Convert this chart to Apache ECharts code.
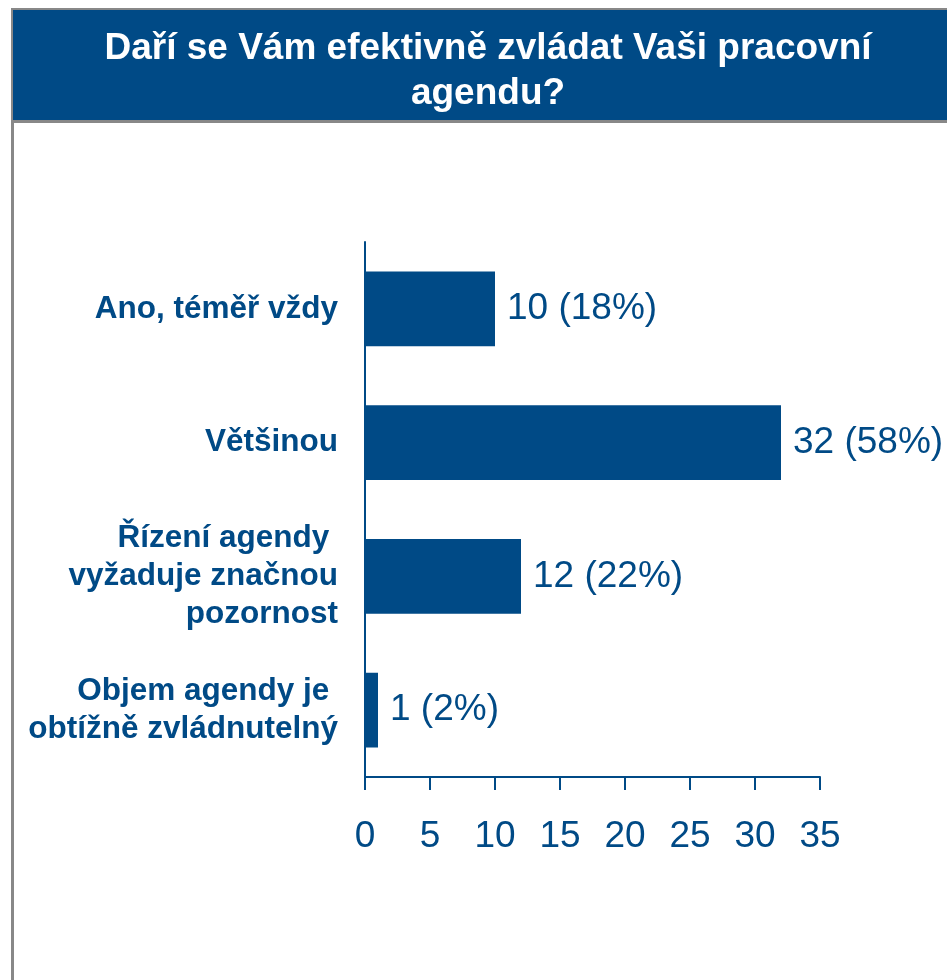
<!DOCTYPE html>
<html>
<head>
<meta charset="utf-8">
<script src="https://cdn.jsdelivr.net/npm/echarts@6/dist/echarts.min.js"></script>
<style>
  html, body { margin: 0; padding: 0; background: #fff; }
  #chart { width: 947px; height: 980px; }
</style>
</head>
<body>
<div id="chart"></div>
<script>
const titleText = 'Daří se Vám efektivně zvládat Vaši pracovní\nagendu?'
const categories = [
  'Ano, téměř vždy',
  'Většinou',
  'Řízení agendy \nvyžaduje značnou\npozornost',
  'Objem agendy je \nobtížně zvládnutelný',
]
const counts = [10, 32, 12, 1]
const percents = [18, 58, 22, 2]
const xTicks = [0, 5, 10, 15, 20, 25, 30, 35]

const blue = '#004a86'
const font = '"Liberation Sans", Arial, sans-serif'

const chart = echarts.init(document.getElementById('chart'))

chart.setOption({
  animation: false,
  backgroundColor: '#fff',
  graphic: [
    // frame + title banner
    { type: 'rect', shape: { x: 11, y: 8, width: 940, height: 115 }, style: { fill: '#888' }, z: 0 },
    { type: 'rect', shape: { x: 13, y: 10, width: 940, height: 110 }, style: { fill: blue }, z: 1 },
    { type: 'rect', shape: { x: 11, y: 120, width: 3, height: 860 }, style: { fill: '#888' }, z: 1 },
  ],
  title: {
    text: titleText,
    left: 483,
    top: 21,
    textAlign: 'center',
    textStyle: {
      color: '#fff',
      fontFamily: font,
      fontWeight: 'bold',
      fontSize: 37,
      lineHeight: 45,
    },
    z: 5,
  },
  grid: {
    left: 365,
    right: 127,
    top: 242,
    bottom: 203,
  },
  xAxis: {
    type: 'value',
    min: xTicks[0],
    max: xTicks[xTicks.length - 1],
    interval: 5,
    splitLine: { show: false },
    axisLine: { show: true, lineStyle: { color: blue, width: 2 } },
    axisTick: { show: true, length: 13, lineStyle: { color: blue, width: 2 } },
    axisLabel: {
      color: blue,
      fontFamily: font,
      fontSize: 37,
      margin: 41,
    },
  },
  yAxis: {
    type: 'category',
    data: categories,
    inverse: true,
    axisLine: { show: true, lineStyle: { color: blue, width: 2 } },
    axisTick: { show: false },
    axisLabel: {
      color: blue,
      fontFamily: font,
      fontWeight: 'bold',
      fontSize: 31.5,
      lineHeight: 38,
      padding: [4, 0, 0, 0],
      margin: 27,
      align: 'right',
    },
  },
  series: [
    {
      type: 'bar',
      data: counts,
      barCategoryGap: '44%',
      itemStyle: { color: blue },
      label: {
        show: true,
        position: 'right',
        distance: 12,
        color: blue,
        fontFamily: font,
        fontSize: 37,
        formatter: (p) => `${counts[p.dataIndex]} (${percents[p.dataIndex]}%)`,
      },
    },
  ],
})
</script>
</body>
</html>
